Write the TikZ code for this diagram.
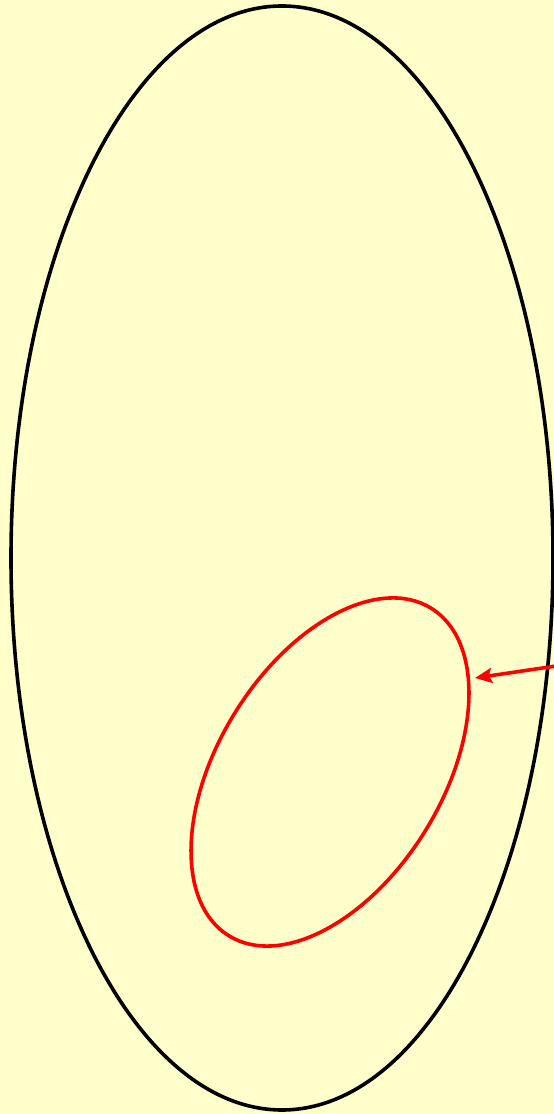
\documentclass[tikz,border=0pt]{standalone}
\usepackage{xcolor}
\usepackage{tikz}
\usetikzlibrary{arrows.meta}

\definecolor{paper}{HTML}{FFFFCC}

\begin{document}
\begin{tikzpicture}[x=1pt,y=1pt]

\def\W{554} % largeur de la page
\def\H{1114} % hauteur de la page

% fond
\fill[paper] (0,0) rectangle (\W,\H);
\useasboundingbox (0,0) rectangle (\W,\H);

% grande ellipse
\coordinate (bigc) at (282,556);
\draw[line width=3.6pt, black] (bigc) ellipse [x radius=271, y radius=552];

% petite ellipse (inclinée)
\coordinate (smallc) at (330,342);
\draw[line width=3.6pt, red, rotate around={58.3:(smallc)}]
    (smallc) ellipse [x radius=192.5, y radius=112];

% flèche
\coordinate (from) at (556,448);
\coordinate (to) at (475,436);
\draw[line width=3.6pt, red, -{Stealth[length=17pt, width=15pt, inset=3pt]}]
    (from) -- (to);

\end{tikzpicture}
\end{document}
